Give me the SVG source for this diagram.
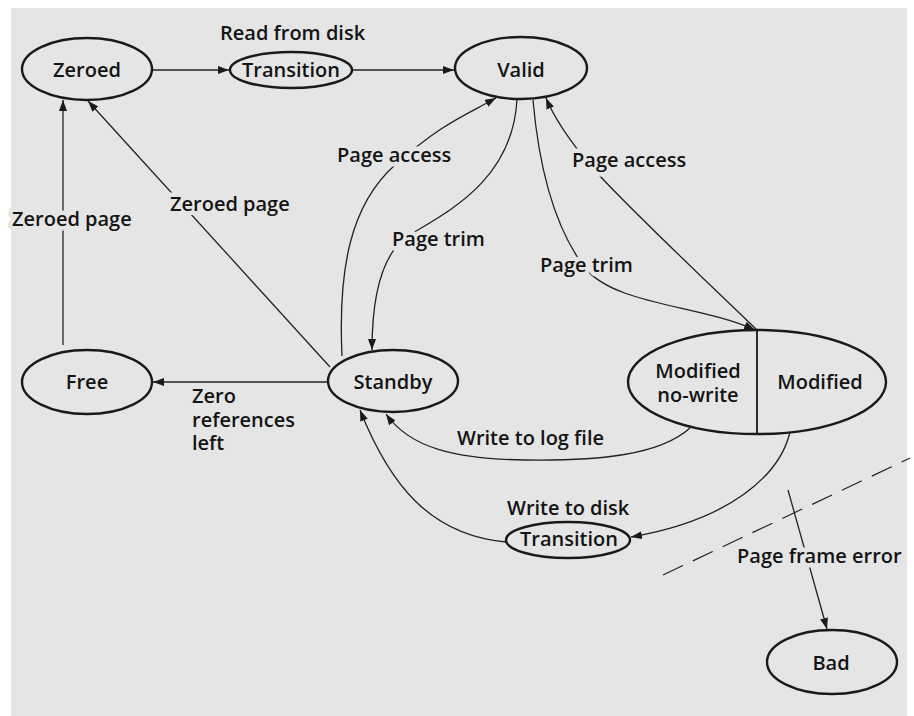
<svg xmlns="http://www.w3.org/2000/svg" width="914" height="716" viewBox="0 0 914 716">
  <style>
    .node ellipse { fill: none; stroke: #1a1a1a; stroke-width: 2.4; }
    .node line { stroke: #1a1a1a; stroke-width: 1.8; }
    text { font-family: "Open Sans", "Liberation Sans", sans-serif; font-weight: 600; font-size: 20px; fill: #141414; }
    .nt { text-anchor: middle; }
    .lbl { paint-order: stroke fill; stroke: #e5e5e5; stroke-width: 9px; stroke-linejoin: round; }
    #connectors path, #connectors line { fill: none; stroke: #222; stroke-width: 1.3; }
    #connectors .dash { stroke-dasharray: 22 11; stroke-width: 1.2; }
  </style>
  <defs>
    <marker id="arr" markerUnits="userSpaceOnUse" markerWidth="12" markerHeight="8" refX="11" refY="4" orient="auto">
      <path d="M0,0 L11,4 L0,8 z" fill="#1a1a1a"/>
    </marker>
  </defs>

  <rect x="0" y="0" width="914" height="716" fill="#ffffff"/>
  <rect x="11" y="8" width="896" height="708" fill="#e5e5e5"/>

  <g id="connectors">
    <line x1="153" y1="70" x2="229" y2="70" marker-end="url(#arr)"/>
    <line x1="353" y1="70" x2="454" y2="70" marker-end="url(#arr)"/>
    <line x1="63" y1="345" x2="63" y2="100" marker-end="url(#arr)"/>
    <line x1="330" y1="367" x2="88" y2="101" marker-end="url(#arr)"/>
    <line x1="328" y1="382" x2="153" y2="382" marker-end="url(#arr)"/>
    <path d="M342,356 C338,270 350,205 395,165 C440,125 460,118 496,98" marker-end="url(#arr)"/>
    <path d="M517,100 C512,185 440,215 405,238 C380,258 372,300 372,350" marker-end="url(#arr)"/>
    <path d="M533,100 C540,180 560,235 585,268 C615,305 700,305 755,330" marker-end="url(#arr)"/>
    <path d="M757,330 C700,275 620,200 590,165 C575,147 556,122 546,98" marker-end="url(#arr)"/>
    <path d="M690,428 C660,455 600,461 525,460 C455,459 410,448 386,414" marker-end="url(#arr)"/>
    <path d="M506,542 C430,535 390,485 360,410" marker-end="url(#arr)"/>
    <path d="M790,432 C780,475 730,520 631,537" marker-end="url(#arr)"/>
    <line x1="788" y1="490" x2="827" y2="629" marker-end="url(#arr)"/>
    <line class="dash" x1="663" y1="575" x2="910" y2="458"/>
  </g>

  <g id="zeroed" class="node">
    <ellipse cx="87" cy="69" rx="65" ry="31"/>
    <text class="nt" x="87" y="77">Zeroed</text>
  </g>
  <g id="transition-read" class="node">
    <ellipse cx="291" cy="70" rx="61" ry="18"/>
    <text class="nt" x="291" y="77">Transition</text>
  </g>
  <g id="valid" class="node">
    <ellipse cx="521" cy="68" rx="66" ry="31"/>
    <text class="nt" x="521" y="77">Valid</text>
  </g>
  <g id="free" class="node">
    <ellipse cx="87" cy="382" rx="65" ry="32"/>
    <text class="nt" x="87" y="389">Free</text>
  </g>
  <g id="standby" class="node">
    <ellipse cx="393" cy="381" rx="65" ry="31"/>
    <text class="nt" x="393" y="389">Standby</text>
  </g>
  <g id="modified" class="node">
    <ellipse cx="757" cy="382" rx="129" ry="52"/>
    <line x1="757" y1="330" x2="757" y2="434"/>
    <text class="nt" x="698" y="378">Modified<tspan x="698" dy="24">no-write</tspan></text>
    <text class="nt" x="820" y="389">Modified</text>
  </g>
  <g id="transition-write" class="node">
    <ellipse cx="568" cy="540" rx="62" ry="18"/>
    <text class="nt" x="569" y="546">Transition</text>
  </g>
  <g id="bad" class="node">
    <ellipse cx="832" cy="662" rx="65" ry="32"/>
    <text class="nt" x="831" y="670">Bad</text>
  </g>

  <g id="labels">
    <text class="lbl" x="220" y="40">Read from disk</text>
    <text class="lbl" x="337" y="162">Page access</text>
    <text class="lbl" x="572" y="167">Page access</text>
    <text class="lbl" x="12" y="226">Zeroed page</text>
    <text class="lbl" x="170" y="211">Zeroed page</text>
    <text class="lbl" x="392" y="246">Page trim</text>
    <text class="lbl" x="540" y="272">Page trim</text>
    <text class="lbl" x="192" y="403">Zero<tspan x="192" dy="24">references</tspan><tspan x="192" dy="23">left</tspan></text>
    <text class="lbl" x="457" y="445">Write to log file</text>
    <text class="lbl" x="507" y="515">Write to disk</text>
    <text class="lbl" x="737" y="563">Page frame error</text>
  </g>
</svg>
